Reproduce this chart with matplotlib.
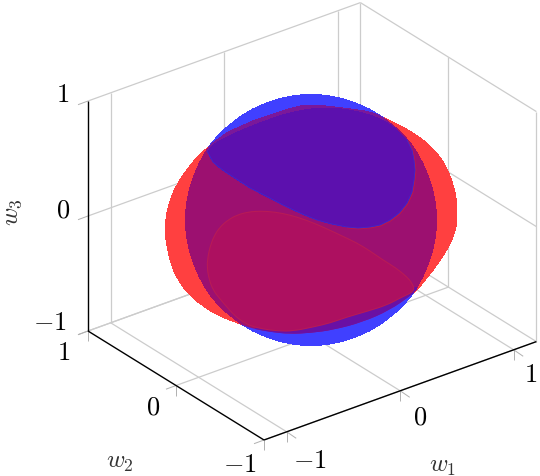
import numpy as np
import matplotlib
matplotlib.use("Agg")
import matplotlib.pyplot as plt
from matplotlib.path import Path
from matplotlib.patches import PathPatch

plt.rcParams['mathtext.fontset'] = 'cm'
plt.rcParams['font.family'] = ['DejaVu Serif']

# axis ranges and ticks
w1_lim = (-1.2, 1.2)
w2_lim = (-1.0, 1.0)
w3_lim = (-1.0, 1.0)
ticks = [-1, 0, 1]
tick_labels = ['$-1$', '$0$', '$1$']

# outlines (screen coordinates of the projected shapes)
blue_outline = [(437,220),(435,198),(429,177),(420,157),(408,139),(392,124),(374,111),(354,102),(333,96),(311,94),
                (289,96),(268,102),(248,111),(230,124),(214,139),(202,157),(193,177),(187,198),(185,220),(187,242),
                (193,263),(202,283),(214,301),(230,316),(248,329),(268,338),(289,344),(311,346),(333,344),(354,338),
                (374,329),(392,316),(408,301),(420,283),(429,263),(435,242)]
red_outline = [(207,148),(196,158),(185,172),(176,186),(170,200),(166,216),(165,232),(167,247),(172,268),(180,283),
               (190,296),(203,306),(217,315),(240,324),(250,328),(270,332),(290,334),(310,333),(333,330),(363,322),
               (390,310),(410,296),(417,290),(427,278),(437,265),(447,250),(455,233),(457,220),(457,203),(454,187),
               (448,170),(439,155),(427,143),(415,134),(403,127),(383,117),(365,111),(343,108),(317,105),(300,106),
               (285,110),(255,120),(228,132),(212,144)]
upper_lobe_top = [(207,151),(215,143),(235,133),(262,122),(288,113),(315,108),(333,108),(350,110),(367,114),(383,120),(396,129)]
upper_lobe_right = [(407,140),(412,150),(414,160),(415,170),(414,180),(412,192),(407,203),(399,213),(390,220),(380,225),(370,227)]
upper_lobe_low = [(358,228),(347,227),(332,224),(317,220),(300,213),(283,205),(266,196),(250,188),(238,180),(227,173),(220,168),(213,162)]
top_strip = [(207,151),(210,145),(228,132),(255,120),(285,110),(300,106),(317,105),(343,108),(365,111),(383,116),(398,128),
             (370,150),(300,150),(230,150)]
lower_lobe = [(207,267),(208,256),(210,247),(214,236),(220,227),(228,220),(237,215),(248,212),(260,211),(275,212),(290,215),
              (306,220),(323,227),(340,235),(357,243),(370,251),(383,260),(396,268),(407,277),(412,283),(415,291),(400,298),
              (387,305),(368,311),(347,317),(330,323),(313,327),(293,331),(278,331),(263,329),(251,326),(243,322),(234,315),
              (227,307),(220,299),(213,290),(209,279)]
bottom_strip = [(417,288),(410,296),(390,310),(363,322),(333,330),(310,333),(290,334),(270,332),(255,329),(300,300),(380,280)]

# colours
c_blue, c_red, c_mid = '#4040ff', '#ff4040', '#9c1070'
c_upper, c_lower, c_top, c_bot = '#5c10ae', '#ad1060', '#7a189a', '#6a10a4'
c_grid = '#cccccc'

# projection of the 3D box onto the page
origin = np.array([312.2, 221.3])
e1, e2, e3 = np.array([113.5, -41.0]), np.array([-88.0, -54.5]), np.array([0.0, -115.0])

def P(a, b, c):
    return origin + a * e1 + b * e2 + c * e3

def seg(ax, p, q, **kw):
    ax.plot([p[0], q[0]], [p[1], q[1]], solid_capstyle='butt', **kw)

def smooth(pts):
    pts = np.asarray(pts, float)
    n = len(pts)
    mids = (pts + np.roll(pts, -1, axis=0)) / 2
    v, c = [mids[-1]], [Path.MOVETO]
    for i in range(n):
        v += [pts[i], mids[i]]
        c += [Path.CURVE3, Path.CURVE3]
    return Path(np.array(v), c)

fig = plt.figure(figsize=(5.4, 4.76), dpi=100)
ax = fig.add_axes([0, 0, 1, 1])
ax.set_xlim(0, 540)
ax.set_ylim(476, 0)
ax.axis('off')

x0, x1 = w1_lim
y0, y1 = w2_lim
z0, z1 = w3_lim
g = dict(color=c_grid, lw=0.9, zorder=1)

# back walls and floor grid
for t in ticks:
    seg(ax, P(t, y1, z0), P(t, y1, z1), **g)
    seg(ax, P(x1, t, z0), P(x1, t, z1), **g)
    seg(ax, P(x0, y1, t), P(x1, y1, t), **g)
    seg(ax, P(x1, y1, t), P(x1, y0, t), **g)
    seg(ax, P(t, y1, z0), P(t, y0, z0), **g)
    seg(ax, P(x0, t, z0), P(x1, t, z0), **g)

# shapes
def fill(path, color, z, clip=None, ec='none', lw=0):
    p = PathPatch(path, fc=color, ec=ec, lw=lw, zorder=z, antialiased=False)
    ax.add_patch(p)
    if clip is not None:
        p.set_clip_path(clip)
    return p

red_patch = fill(smooth(red_outline), c_red, 2)
blue_patch = fill(smooth(blue_outline), c_blue, 3)
fill(smooth(blue_outline), c_mid, 4, clip=red_patch)
fill(Path(np.array(top_strip + top_strip[:1], float), closed=True), c_top, 5, clip=blue_patch)
fill(Path(np.array(bottom_strip + bottom_strip[:1], float), closed=True), c_bot, 5, clip=red_patch)

upper_lobe = upper_lobe_top + upper_lobe_right + upper_lobe_low
up = PathPatch(smooth(upper_lobe), fc=c_upper, ec='none', zorder=6, antialiased=False)
ax.add_patch(up)
up.set_clip_path(blue_patch)
right_xy = np.array(upper_lobe_right + upper_lobe_low[:2], float)
ax.plot(right_xy[:, 0] + 0.8, right_xy[:, 1] + 0.8, color='#b8184f', lw=0.9, zorder=6.1)
low_xy = np.array(upper_lobe_right + upper_lobe_low + upper_lobe_top[:1], float)
ax.plot(low_xy[:, 0], low_xy[:, 1], color='#4424c8', lw=0.7, zorder=6.2)
ax.add_patch(PathPatch(smooth(lower_lobe), fc=c_lower, ec='#b81a56', lw=0.8, zorder=6))

# tick marks
tk = dict(color='#b0b0b0', lw=0.7, zorder=7)
for t in ticks:
    a = P(t, y0, z0)
    seg(ax, a, a + (0, 10), **tk)
    seg(ax, a, a + (9.5, 6.5), **tk)
    b = P(x0, t, z0)
    seg(ax, b, b + (0, 10), **tk)
    seg(ax, b, b + (-10, 3.7), **tk)
    c = P(x0, y1, t)
    seg(ax, c, c + (-10, 3.7), **tk)

# axis lines
k = dict(color='black', lw=1.0, zorder=8)
seg(ax, P(x0, y1, z0), P(x0, y1, z1), **k)
seg(ax, P(x0, y1, z0), P(x0, y0, z0), **k)
seg(ax, P(x0, y0, z0), P(x1, y0, z0), **k)

# tick labels
fs = 19
txt = dict(fontsize=fs, ha='center', va='center', color='black')
for t, s, pos in zip(ticks, tick_labels, [(310, 460), (420, 417), (531, 374)]):
    ax.text(*pos, s, **txt)
for t, s, pos in zip(ticks, tick_labels, [(240, 465), (153, 407), (64, 352)]):
    ax.text(*pos, s, **txt)
for t, s, pos in zip(ticks, tick_labels, [(50, 322), (63, 210), (63, 94)]):
    ax.text(*pos, s, **txt)

ax.text(443, 466, '$w_1$', fontsize=18, ha='center', va='center', color='#333333')
ax.text(120, 463, '$w_2$', fontsize=18, ha='center', va='center', color='#333333')
ax.text(13, 212, '$w_3$', fontsize=18, ha='center', va='center', rotation=90, color='#333333')

fig.savefig('out.png', dpi=100)
